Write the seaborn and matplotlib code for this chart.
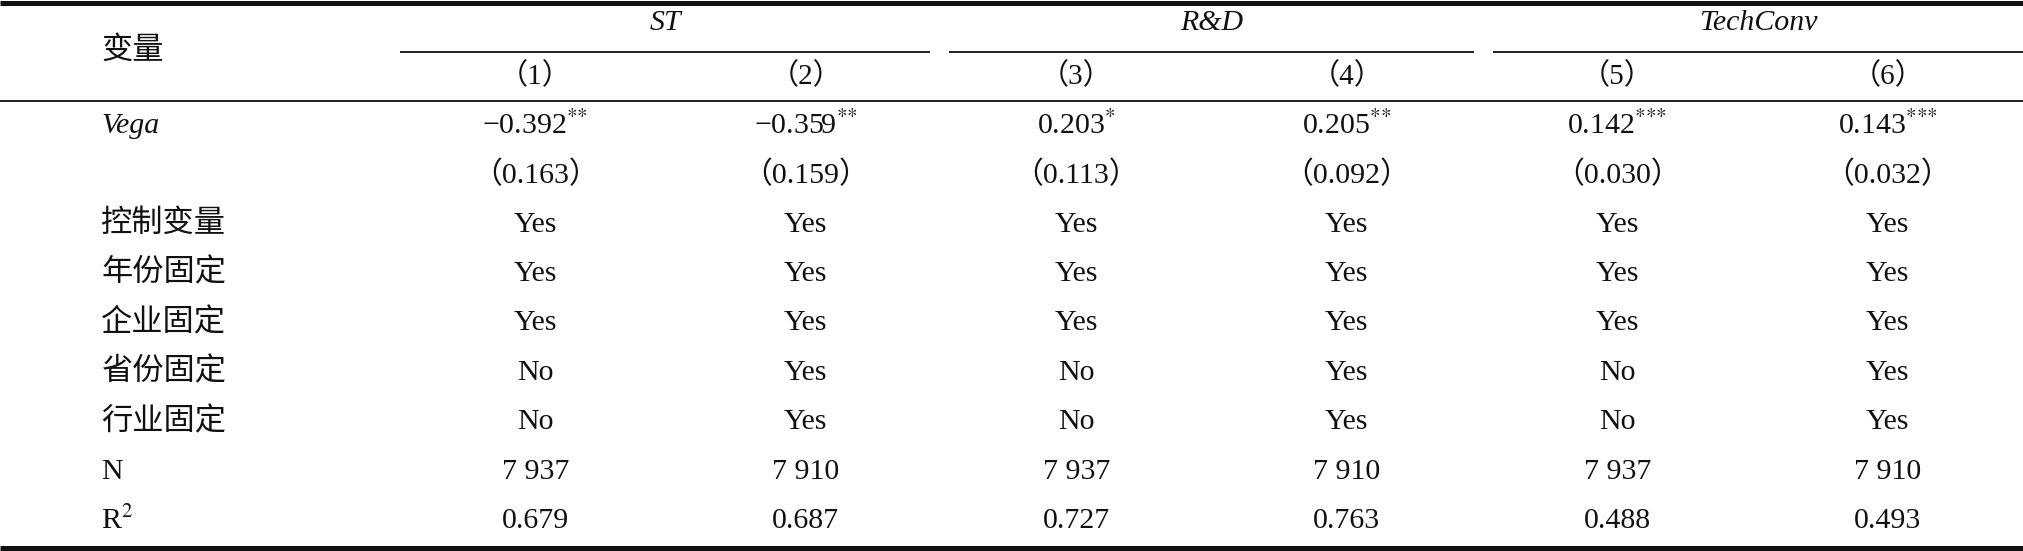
import numpy as np
import pandas as pd
import matplotlib
matplotlib.use("Agg")
import matplotlib.pyplot as plt
import seaborn as sns
from matplotlib.colors import ListedColormap

# table content
groups = ["ST", "R&D", "TechConv"]
models = ["（1）", "（2）", "（3）", "（4）", "（5）", "（6）"]
row_labels = ["Vega", "", "控制变量", "年份固定", "企业固定", "省份固定", "行业固定", "N", "R$^2$"]

coef = [-0.392, -0.359, 0.203, 0.205, 0.142, 0.143]
stars = ["**", "**", "*", "**", "***", "***"]
se = [0.163, 0.159, 0.113, 0.092, 0.030, 0.032]
ctrl = ["Yes", "Yes", "Yes", "Yes", "Yes", "Yes"]
year_fe = ["Yes", "Yes", "Yes", "Yes", "Yes", "Yes"]
firm_fe = ["Yes", "Yes", "Yes", "Yes", "Yes", "Yes"]
prov_fe = ["No", "Yes", "No", "Yes", "No", "Yes"]
ind_fe = ["No", "Yes", "No", "Yes", "No", "Yes"]
n_obs = [7937, 7910, 7937, 7910, 7937, 7910]
r2 = [0.679, 0.687, 0.727, 0.763, 0.488, 0.493]


def fmt_num(v):
    s = f"{abs(v):.3f}"
    return ("\u2212" if v < 0 else "") + s


def sup_stars(s):
    # braces keep mathtext from spacing the stars like operators
    return r"$^{" + "".join("{*}" for _ in s) + "}$"


cells = [
    [fmt_num(c) + sup_stars(s) for c, s in zip(coef, stars)],
    ["（" + f"{v:.3f}" + "）" for v in se],
    ctrl, year_fe, firm_fe, prov_fe, ind_fe,
    [f"{v:,}".replace(",", " ") for v in n_obs],
    [f"{v:.3f}" for v in r2],
]
annot = pd.DataFrame(cells, index=row_labels, columns=models)
blank = pd.DataFrame(np.zeros(annot.shape), index=row_labels, columns=models)

plt.rcParams["mathtext.fontset"] = "stix"
fam = ["Liberation Serif", "Noto Sans CJK SC"]
ink = "#111111"

W, H = 2023, 551
fig = plt.figure(figsize=(W / 100, H / 100), dpi=100)
ax = fig.add_axes([400 / W, 5 / H, 1 - 400 / W, 445 / H])

sns.heatmap(blank, annot=annot.values, fmt="", cmap=ListedColormap(["white"]),
            cbar=False, linewidths=0, ax=ax,
            annot_kws={"fontsize": 21.5, "family": fam, "color": ink})

ax.set_xticks([])
ax.set_xlabel("")
ax.set_ylabel("")
ax.tick_params(axis="y", length=0, pad=215)
ax.set_yticklabels(row_labels, rotation=0)
for lab in ax.get_yticklabels():
    lab.set_ha("left")
    lab.set_family(fam)
    lab.set_color(ink)
    t = lab.get_text()
    if t == "Vega":
        lab.set_fontstyle("italic")
        lab.set_fontsize(21.5)
    elif t in ("N", "R$^2$"):
        lab.set_fontsize(21.5)
    else:
        lab.set_fontsize(22.5)
        lab.set_fontweight("light")

left = -400 / 270.5

# column numbers and group titles
for i, m in enumerate(models):
    ax.text(i + 0.5, -0.5, m, ha="center", va="center", fontsize=21, family=fam, color=ink)
spans = [(0.0, 1.96), (2.03, 3.97), (4.04, 6.0)]
for g, (a, b) in zip(groups, spans):
    ax.text((a + b) / 2, -1.58, g, ha="center", va="center", fontsize=21.5,
            family=fam, fontstyle="italic", color=ink)
    ax.plot([a, b], [-1.0, -1.0], color=ink, lw=1.3, clip_on=False, solid_capstyle="butt")
ax.text(left + 101 / 270.5, -1.0, "变量", ha="left", va="center", fontsize=22.5,
        family=fam, fontweight="light", color=ink)

# rules
ax.plot([left, 6], [-1.99, -1.99], color=ink, lw=3.6, clip_on=False, solid_capstyle="butt")
ax.plot([left, 6], [0, 0], color=ink, lw=1.3, clip_on=False, solid_capstyle="butt")
ax.plot([left, 6], [9.05, 9.05], color=ink, lw=3.6, clip_on=False, solid_capstyle="butt")

fig.savefig("out.png", dpi=100)
